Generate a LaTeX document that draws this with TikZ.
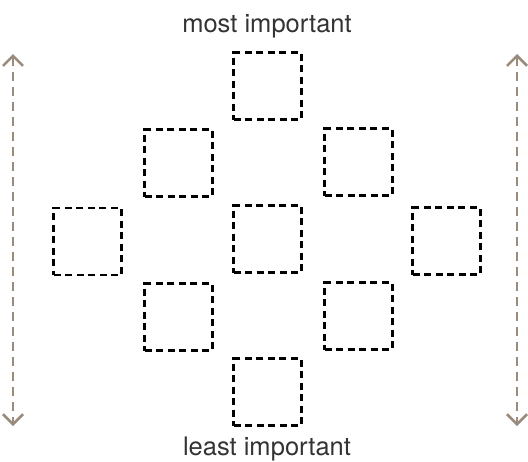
\documentclass[tikz,border=0pt]{standalone}
\usepackage{fontspec}
\setmainfont{TeX Gyre Heros}
\usetikzlibrary{arrows.meta}
\definecolor{arrowc}{HTML}{9A8B7C}
\definecolor{txtc}{HTML}{333333}
\begin{document}
\begin{tikzpicture}[x=1pt,y=-1pt,
  slot/.style={draw=black, line width=2.6pt, dash pattern=on 7pt off 4.5pt, minimum width=67.5pt, minimum height=67pt, inner sep=0pt},
  rankarrow/.style={draw=arrowc, line width=2.8pt, dash pattern=on 9pt off 6pt, {Straight Barb[length=10pt,width=20pt,line width=2.6pt]}-{Straight Barb[length=10pt,width=20pt,line width=2.6pt]}},
  lab/.style={text=txtc, font=\fontsize{25.5}{30}\selectfont, anchor=base, inner sep=0pt}]
\useasboundingbox (0,0) rectangle (528,461);
\node[slot] (t)  at (267.5,86) {};
\node[slot] (ml) at (178.5,163) {};
\node[slot] (mr) at (358.5,162) {};
\node[slot] (l)  at (87.5,241.5) {};
\node[slot] (c)  at (267.5,239) {};
\node[slot] (r)  at (446.5,241) {};
\node[slot] (bl) at (178.5,317) {};
\node[slot] (br) at (358.5,316) {};
\node[slot] (b)  at (267.5,392) {};
\node[lab] (top) at (267,32) {most important};
\node[lab] (bot) at (267,455) {least important};
\coordinate (la) at (13,54);
\coordinate (lb) at (13,426);
\coordinate (ra) at (517,54);
\coordinate (rb) at (517,426);
\draw[rankarrow] (la) -- (lb);
\draw[rankarrow] (ra) -- (rb);
\end{tikzpicture}
\end{document}
